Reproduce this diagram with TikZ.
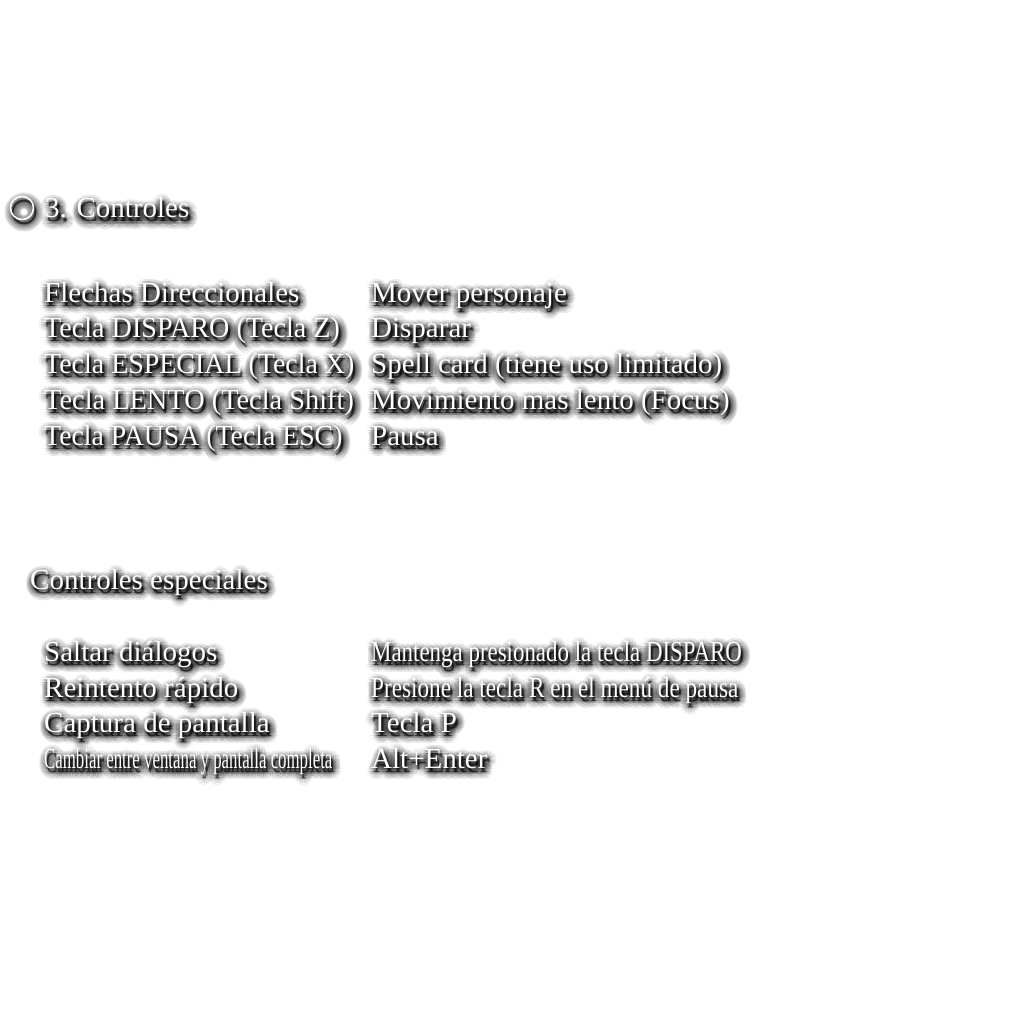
\documentclass[tikz,border=0pt]{standalone}
\usepackage{fontspec}
\setmainfont{Liberation Serif}
\usepackage{graphicx}
\usetikzlibrary{positioning,calc}

% white text with a soft dark shadow
\tikzset{
    txt/.style={anchor=base west, inner sep=0pt, text=white, font=\fontsize{29}{31}\selectfont},
    shade/.style={txt, text=black, opacity=0.05}
}
\newcommand{\shtext}[4]{%
  \foreach \r in {0,1.5,3,4.5,6,7.5}{%
    \foreach \a in {0,20,...,340}{%
      \node[shade] (#1-\r-\a) at ($(#2,#3)+(2,4)+(\a:\r)$) {#4};
    }
  }
  \node[txt] (#1) at (#2,#3) {#4};
}
\newcommand{\narrow}[2]{\scalebox{#1}[1]{#2}}

\begin{document}
\begin{tikzpicture}[x=1pt, y=-1pt]
\useasboundingbox (0,0) rectangle (1024,1024);

% bullet
\foreach \r in {0,1.5,3,4.5,6,7.5}{
  \foreach \a in {0,20,...,340}{
    \draw[black, opacity=0.05, line width=1.6pt] ($(22,208)+(2,4)+(\a:\r)$) circle (11.5);
  }
}
\node[circle, draw=white, line width=1.6pt, minimum size=23pt, inner sep=0pt] (bullet) at (22,208) {};

\shtext{title}{45}{218}{3. Controles}

% main controls
\shtext{k1}{44}{302}{Flechas Direccionales}
\shtext{k2}{44}{337}{\narrow{0.97}{Tecla DISPARO (Tecla Z)}}
\shtext{k3}{44}{373}{\narrow{0.963}{Tecla ESPECIAL (Tecla X)}}
\shtext{k4}{44}{409}{\narrow{0.978}{Tecla LENTO (Tecla Shift)}}
\shtext{k5}{44}{445}{\narrow{0.958}{Tecla PAUSA (Tecla ESC)}}

\shtext{a1}{371}{302}{Mover personaje}
\shtext{a2}{371}{337}{Disparar}
\shtext{a3}{371}{373}{Spell card (tiene uso limitado)}
\shtext{a4}{371}{409}{Movimiento mas lento (Focus)}
\shtext{a5}{371}{445}{Pausa}

% special controls
\shtext{sub}{30}{589}{Controles especiales}

\shtext{s1}{44}{661}{Saltar diálogos}
\shtext{s2}{44}{697}{Reintento rápido}
\shtext{s3}{44}{732}{Captura de pantalla}
\shtext{s4}{44}{768}{\narrow{0.58}{Cambiar entre ventana y pantalla completa}}

\shtext{b1}{371}{661}{\narrow{0.79}{Mantenga presionado la tecla DISPARO}}
\shtext{b2}{371}{697}{\narrow{0.8}{Presione la tecla R en el menú de pausa}}
\shtext{b3}{371}{732}{Tecla P}
\shtext{b4}{371}{768}{Alt+Enter}

\end{tikzpicture}
\end{document}
